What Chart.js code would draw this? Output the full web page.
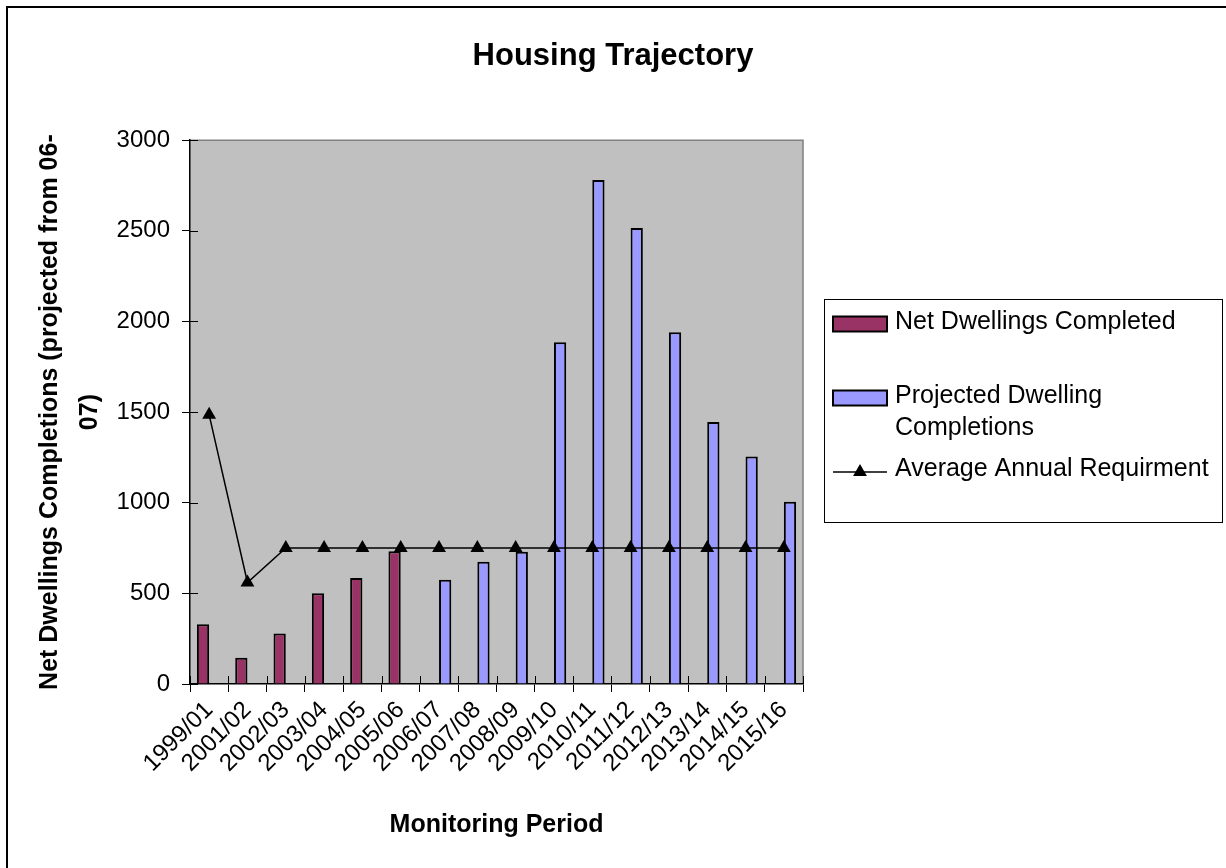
<!DOCTYPE html>
<html>
<head>
<meta charset="utf-8">
<script src="https://cdn.jsdelivr.net/npm/chart.js@4/dist/chart.umd.min.js"></script>
<style>
html,body{margin:0;padding:0;background:#ffffff;}
#wrap{width:1226px;height:868px;position:relative;}
canvas{display:block;}
</style>
</head>
<body>
<div id="wrap"><canvas id="c" width="1226" height="868"></canvas></div>
<script>
// ---- data ----
const categories = ['1999/01','2001/02','2002/03','2003/04','2004/05','2005/06','2006/07','2007/08',
  '2008/09','2009/10','2010/11','2011/12','2012/13','2013/14','2014/15','2015/16'];
const netCompleted = [330, 145, 278, 500, 585, 732, null, null, null, null, null, null, null, null, null, null];
const projectedCompletions = [null, null, null, null, null, null, 575, 675, 730, 1885, 2780, 2515, 1940, 1445, 1255, 1005];
const averageRequirement = [1485, 560, 750, 750, 750, 750, 750, 750, 750, 750, 750, 750, 750, 750, 750, 750];
const seriesLabels = ['Net Dwellings Completed', 'Projected Dwelling Completions', 'Average Annual Requirment'];
const yMin = 0, yMax = 3000, yStep = 500;
const chartTitle = 'Housing Trajectory';
const xTitle = 'Monitoring Period';
const yTitle = ['Net Dwellings Completions (projected from 06-', '07)'];

// ---- styles / layout ----
const FONT = '"Liberation Sans", Arial, Helvetica, sans-serif';
const legendLayout = { x: 824, y: 299, w: 398, h: 223, swatchX: 833, swatchW: 54, swatchH: 15, swatchOffset: 2, lineOffset: 3,
  textX: 895, rowY: [322, 396, 469], lineH: 32, maxTextW: 326, fontSize: 25 };

const plotDecor = {
  id: 'plotDecor',
  beforeDraw(chart) {
    const {ctx, chartArea: a} = chart;
    ctx.save();
    ctx.fillStyle = '#ffffff';
    ctx.fillRect(0, 0, chart.width, chart.height);
    // outer frame (left and top)
    ctx.strokeStyle = '#000000';
    ctx.lineWidth = 2;
    ctx.beginPath();
    ctx.moveTo(7, 868); ctx.lineTo(7, 7); ctx.lineTo(1226, 7);
    ctx.stroke();
    // plot background
    ctx.fillStyle = '#C0C0C0';
    ctx.fillRect(a.left, a.top, a.right - a.left, a.bottom - a.top);
    // top & right border
    ctx.strokeStyle = '#808080';
    ctx.lineWidth = 1.5;
    ctx.beginPath();
    ctx.moveTo(a.left, a.top); ctx.lineTo(a.right, a.top); ctx.lineTo(a.right, a.bottom);
    ctx.stroke();
    ctx.restore();
  },
  afterDatasetsDraw(chart) {
    // inner half of cross tick marks
    const {ctx, chartArea: a, scales} = chart;
    ctx.save();
    ctx.strokeStyle = '#000000';
    ctx.lineWidth = 1;
    ctx.beginPath();
    scales.y.ticks.forEach((t, i) => {
      const py = Math.round(scales.y.getPixelForTick(i)) + 0.5;
      ctx.moveTo(a.left, py); ctx.lineTo(a.left + 8, py);
    });
    const n = categories.length;
    for (let i = 0; i <= n; i++) {
      const px = Math.round(a.left + i * (a.right - a.left) / n) + 0.5;
      ctx.moveTo(px, a.bottom); ctx.lineTo(px, a.bottom - 8);
    }
    ctx.stroke();
    ctx.restore();
  },
  afterDraw(chart) {
    const {ctx} = chart;
    const L = legendLayout;
    ctx.save();
    ctx.fillStyle = '#ffffff';
    ctx.fillRect(L.x, L.y, L.w, L.h);
    ctx.strokeStyle = '#000000';
    ctx.lineWidth = 1;
    ctx.strokeRect(L.x + 0.5, L.y + 0.5, L.w, L.h);
    ctx.font = L.fontSize + 'px ' + FONT;
    ctx.textBaseline = 'middle';
    ctx.textAlign = 'left';
    chart.data.datasets.forEach((ds, i) => {
      const cy = L.rowY[i];
      if (ds.type === 'line') {
        const ly = cy + L.lineOffset;
        ctx.strokeStyle = ds.borderColor;
        ctx.lineWidth = 1.5;
        ctx.beginPath();
        ctx.moveTo(L.swatchX, ly); ctx.lineTo(L.swatchX + L.swatchW, ly);
        ctx.stroke();
        ctx.fillStyle = ds.pointBackgroundColor;
        ctx.beginPath();
        const r = ds.pointRadius;
        const cx = L.swatchX + L.swatchW / 2;
        ctx.moveTo(cx, ly - r); ctx.lineTo(cx + r * 0.866, ly + r * 0.5); ctx.lineTo(cx - r * 0.866, ly + r * 0.5);
        ctx.closePath(); ctx.fill();
      } else {
        const sy = cy - L.swatchH / 2 + L.swatchOffset;
        ctx.fillStyle = ds.backgroundColor;
        ctx.fillRect(L.swatchX, sy, L.swatchW, L.swatchH);
        ctx.strokeStyle = '#000';
        ctx.lineWidth = 2;
        ctx.strokeRect(L.swatchX, sy, L.swatchW, L.swatchH);
      }
      // wrap label
      const words = ds.label.split(' ');
      const lines = [];
      let cur = '';
      words.forEach(w => {
        const test = cur ? cur + ' ' + w : w;
        if (ctx.measureText(test).width > L.maxTextW && cur) { lines.push(cur); cur = w; }
        else cur = test;
      });
      if (cur) lines.push(cur);
      ctx.fillStyle = '#000';
      lines.forEach((ln, k) => ctx.fillText(ln, L.textX, cy + k * L.lineH));
    });
    ctx.restore();
  }
};

const ctx = document.getElementById('c').getContext('2d');
new Chart(ctx, {
  data: {
    labels: categories,
    datasets: [
      { type: 'bar', label: seriesLabels[0], data: netCompleted, backgroundColor: '#993366', borderColor: '#000000', borderWidth: 2, order: 2 },
      { type: 'bar', label: seriesLabels[1], data: projectedCompletions, backgroundColor: '#9999FF', borderColor: '#000000', borderWidth: 2, order: 2 },
      { type: 'line', label: seriesLabels[2], data: averageRequirement, borderColor: '#000000', borderWidth: 1.5, backgroundColor: '#000000',
        pointStyle: 'triangle', pointRadius: 8, pointHoverRadius: 8, pointBackgroundColor: '#000000', pointBorderColor: '#000000', pointBorderWidth: 0, tension: 0, order: 0 }
    ]
  },
  options: {
    responsive: false,
    devicePixelRatio: 1,
    animation: false,
    events: [],
    layout: { padding: { left: 0, right: 0, top: 0, bottom: 0 } },
    datasets: { bar: { categoryPercentage: 0.64, barPercentage: 1.0 } },
    plugins: {
      legend: { display: false },
      tooltip: { enabled: false },
      title: { display: true, text: chartTitle, color: '#000', font: { family: FONT, size: 31, weight: 'bold' }, padding: { top: 38, bottom: 65 } }
    },
    scales: {
      x: {
        type: 'category',
        offset: true,
        grid: { display: true, drawOnChartArea: false, drawTicks: true, tickLength: 8, color: '#000', offset: true },
        border: { display: true, color: '#000', width: 1.5 },
        ticks: { color: '#000', font: { family: FONT, size: 24 }, minRotation: 45, maxRotation: 45, autoSkip: false, padding: 4 },
        title: { display: true, text: xTitle, color: '#000', font: { family: FONT, size: 25, weight: 'bold' }, padding: { top: 0, bottom: 28 } },
        afterFit(s) { s.height = 184; }
      },
      y: {
        min: yMin, max: yMax,
        grid: { display: true, drawOnChartArea: false, drawTicks: true, tickLength: 8, color: '#000' },
        border: { display: true, color: '#000', width: 1.5 },
        ticks: { stepSize: yStep, color: '#000', font: { family: FONT, size: 24 }, padding: 12, callback: (v) => String(v) },
        title: { display: true, text: yTitle, color: '#000', font: { family: FONT, size: 25, weight: 'bold', lineHeight: 1.6 }, padding: { top: 30, bottom: 0 } },
        afterFit(s) { s.width = 190; }
      },
      legendSpace: {
        type: 'linear',
        position: 'right',
        min: yMin, max: yMax,
        display: true,
        grid: { display: false, drawTicks: false },
        border: { display: false },
        ticks: { display: false },
        afterFit(s) { s.width = 423; }
      }
    }
  },
  plugins: [plotDecor]
});
</script>
</body>
</html>
